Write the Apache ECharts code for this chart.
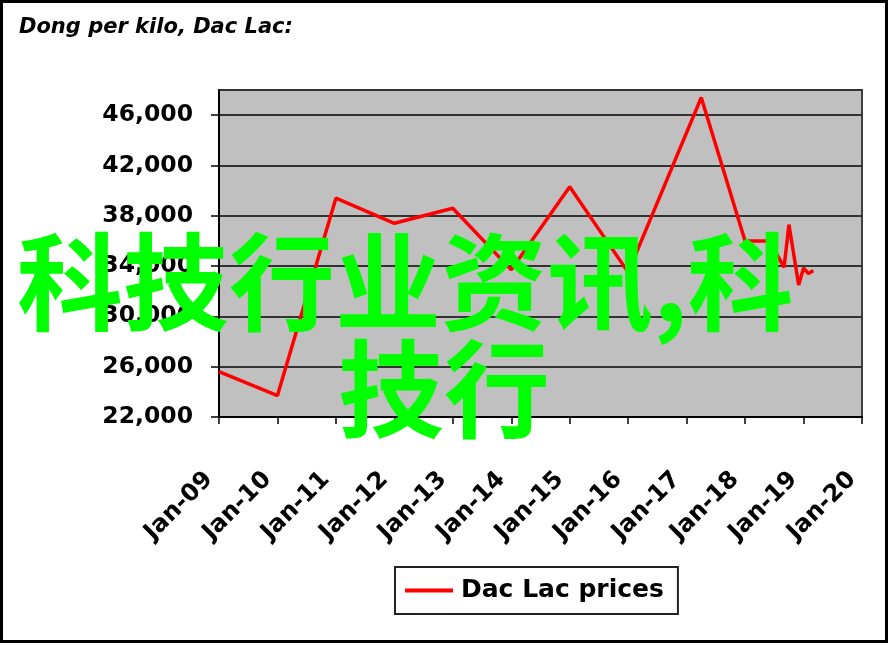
<!DOCTYPE html>
<html>
<head>
<meta charset="utf-8">
<script src="https://cdn.jsdelivr.net/npm/echarts@6/dist/echarts.min.js"></script>
<style>
html,body{margin:0;padding:0;background:#fff;}
#chart{width:889px;height:645px;}
</style>
</head>
<body>
<div id="chart"></div>
<script>
// ---- data ----
var titleText = 'Dong per kilo, Dac Lac:';
var seriesName = 'Dac Lac prices';
var dates = ['2009-01','2010-01','2011-01','2012-01','2013-01','2014-01','2015-01','2016-01','2017-04','2018-01','2018-06','2018-09','2018-10','2018-12','2019-01','2019-02','2019-03'];
var prices = [25600, 23700, 39400, 37400, 38600, 33700, 40300, 33500, 47400, 36000, 36000, 33900, 37300, 32500, 33850, 33400, 33650];
var xTickLabels = ['Jan-09','Jan-10','Jan-11','Jan-12','Jan-13','Jan-14','Jan-15','Jan-16','Jan-17','Jan-18','Jan-19','Jan-20'];
var yTickValues = [22000, 26000, 30000, 34000, 38000, 42000, 46000];
var watermarkLine1 = '科技行业资讯,科';
var watermarkLine2 = '技行';

// ---- build ----
function toYear(s){ var p = s.split('-'); return (+p[0]) + (+p[1]-1)/12; }
var lineData = dates.map(function(d,i){ return [toYear(d), prices[i]]; });
var xStart = toYear('2009-01');

var chart = echarts.init(document.getElementById('chart'), null, {renderer:'canvas'});
var option = {
  animation: false,
  backgroundColor: '#ffffff',
  title: {
    text: titleText, left: 14, top: 12,
    textStyle: {fontFamily:'DejaVu Sans', fontWeight:'bold', fontStyle:'italic', fontSize:21, color:'#000'}
  },
  grid: {left:219, right:27, top:90, bottom:228, show:true, backgroundColor:'#c0c0c0', borderColor:'#404040', borderWidth:2, containLabel:false, outerBoundsMode:'none'},
  legend: {
    left: 395, top: 567,
    data: [seriesName],
    icon: 'rect', itemWidth: 48, itemHeight: 4,
    padding: [11, 14, 11, 10],
    borderColor: '#222', borderWidth: 2, backgroundColor:'#fff',
    textStyle: {fontFamily:'DejaVu Sans', fontWeight:'bold', fontSize:25, color:'#000', lineHeight:25, padding:[0,0,0,3]}
  },
  xAxis: {
    type: 'value', min: 2009, max: 2020, interval: 1,
    splitLine: {show:false},
    axisLine: {show:true, onZero:false, lineStyle:{color:'#000', width:2}},
    axisTick: {show:true, inside:false, length:7, lineStyle:{color:'#000', width:1.5}},
    axisLabel: {
      rotate: 45, margin: 49, padding: [0, 14, 0, 0],
      fontFamily:'DejaVu Sans', fontWeight:'bold', fontSize:24, color:'#000',
      formatter: function(v){ var i = Math.round(v - xStart); return xTickLabels[i] || ''; }
    }
  },
  yAxis: {
    type: 'value', min: 22000, max: 48000, interval: 4000,
    splitLine: {show:true, lineStyle:{color:'#333', width:2}},
    axisLine: {show:true, lineStyle:{color:'#000', width:2}},
    axisTick: {show:true, inside:false, length:8, lineStyle:{color:'#000', width:1.5}},
    axisLabel: {
      margin: 26, showMaxLabel: false,
      fontFamily:'DejaVu Sans', fontWeight:'bold', fontSize:23.5, color:'#000',
      formatter: function(v){ return yTickValues.indexOf(v) >= 0 ? v.toLocaleString('en-US') : ''; }
    }
  },
  series: [{
    name: seriesName, type: 'line', data: lineData,
    showSymbol: false, symbol: 'none',
    lineStyle: {color:'#ff0000', width:3.5},
    itemStyle: {color:'#ff0000'},
    z: 5
  }],
  graphic: [
    {type:'rect', shape:{x:1.5, y:1.5, width:885, height:640}, style:{fill:'none', stroke:'#000', lineWidth:3}, z:100, silent:true},
    {type:'text', x:17, y:282, z:200, silent:true,
      style:{text:watermarkLine1, fill:'#00ff00', font:'bold 106px "Noto Sans CJK SC"', textAlign:'left', textVerticalAlign:'middle', verticalAlign:'middle'}},
    {type:'text', x:444, y:389, z:200, silent:true,
      style:{text:watermarkLine2, fill:'#00ff00', font:'bold 106px "Noto Sans CJK SC"', textAlign:'center', textVerticalAlign:'middle', verticalAlign:'middle'}}
  ]
};
chart.setOption(option);
</script>
</body>
</html>
